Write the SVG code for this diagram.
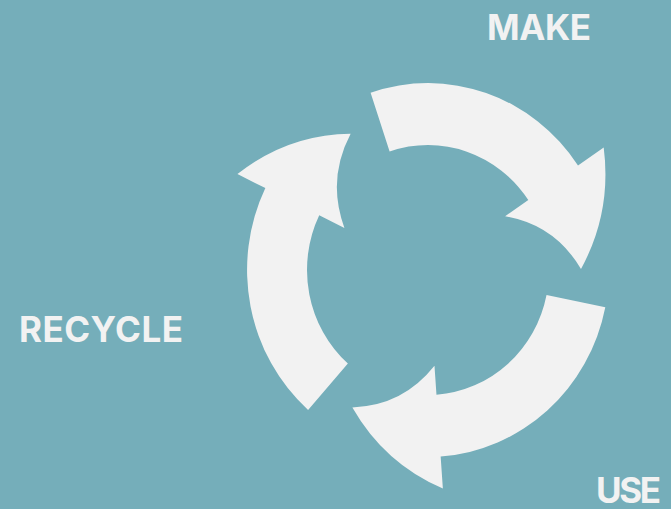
<svg xmlns="http://www.w3.org/2000/svg" xmlns:xlink="http://www.w3.org/1999/xlink" width="671" height="509" viewBox="0 0 671 509">
  <style>
    .bg { fill: #75aeba; }
    .arrow { fill: #f2f2f2; }
    .label { fill: #f2f2f2; font-family: Inter, "Open Sans", "Liberation Sans", sans-serif; font-weight: 700; font-size: 35px; }
  </style>
  <defs>
    <path id="arc-arrow" class="arrow" d="M -57.4,-171.6 A 181,181 0 0 1 150.0,-101.2 L 175.7,-118.6 Q 184,-56 153,-1 Q 126.7,-43.9 77.1,-52.0 L 100.3,-67.7 A 121,121 0 0 0 -38.4,-114.7 Z"/>
  </defs>
  <rect class="bg" x="0" y="0" width="671" height="509"/>
  <g id="connectors" transform="translate(428,270) scale(1,1.033)">
    <use id="arrow-make-to-use" href="#arc-arrow" xlink:href="#arc-arrow"/>
    <use id="arrow-use-to-recycle" href="#arc-arrow" xlink:href="#arc-arrow" transform="rotate(120)"/>
    <use id="arrow-recycle-to-make" href="#arc-arrow" xlink:href="#arc-arrow" transform="rotate(240)"/>
  </g>
  <g id="make">
    <text class="label" x="487" y="40" textLength="104">MAKE</text>
  </g>
  <g id="use">
    <text class="label" x="596" y="503" textLength="65">USE</text>
  </g>
  <g id="recycle">
    <text class="label" x="19" y="342" textLength="164">RECYCLE</text>
  </g>
</svg>
